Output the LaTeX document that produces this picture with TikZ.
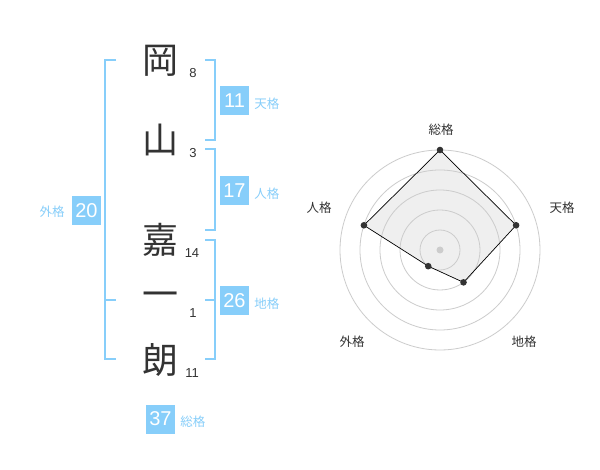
\documentclass[tikz,border=0pt]{standalone}
\usepackage{fontspec}
\setmainfont{Liberation Sans}
\newfontfamily\jpfont{Noto Sans CJK JP}
\usepackage{tikz}
\usetikzlibrary{positioning}
\definecolor{KakuBlue}{HTML}{87CEFA}
\definecolor{InkGray}{HTML}{333333}
\definecolor{RingGray}{HTML}{CCCCCC}
\definecolor{AreaGray}{HTML}{EFEFEF}

\begin{document}
\begin{tikzpicture}[x=1pt,y=-1pt,
  kanji/.style={font=\jpfont\fontsize{36}{36}\selectfont,text=InkGray,inner sep=0pt},
  strokes/.style={font=\fontsize{13}{13}\selectfont,text=InkGray,inner sep=0pt},
  score/.style={fill=KakuBlue,text=white,minimum size=29pt,inner sep=0pt,font=\fontsize{20}{20}\selectfont},
  kaku/.style={font=\jpfont\fontsize{12.5}{12.5}\selectfont,text=KakuBlue,inner sep=0pt},
  bracket/.style={draw=KakuBlue,line width=2pt},
  axislabel/.style={font=\jpfont\fontsize{12.5}{12.5}\selectfont,text=InkGray,inner sep=0pt},
  ring/.style={draw=RingGray,line width=0.8pt},
  dot/.style={fill=InkGray}]
  \useasboundingbox[fill=white] (0,0) rectangle (600,470);
  % name, one character above the other
  \node[kanji] (oka) at (160,61) {岡};
  \node[kanji] (yama) at (160,140) {山};
  \node[kanji] (ka) at (160,240) {嘉};
  \node[kanji] (ichi) at (160,300) {一};
  \node[kanji] (ro) at (160,360) {朗};
  \node[strokes] (n8) at (193,73) {8};
  \node[strokes] (n3) at (193,153) {3};
  \node[strokes] (n14) at (192,253) {14};
  \node[strokes] (n1) at (193,313) {1};
  \node[strokes] (n11) at (192,373) {11};
  % brackets
  \draw[bracket] (205,60) -- (215,60) -- (215,140) -- (205,140);
  \draw[bracket] (205,149) -- (215,149) -- (215,230) -- (205,230);
  \draw[bracket] (205,240) -- (215,240) -- (215,359) -- (205,359);
  \draw[bracket] (205,300) -- (215,300);
  \draw[bracket] (116,60) -- (105,60) -- (105,359) -- (116,359);
  \draw[bracket] (105,300) -- (116,300);
  % scores
  \node[score] (ten) at (234.5,100.5) {11};
  \node[kaku,right=5pt of ten.east,yshift=-3pt] (tenl) {天格};
  \node[score] (jin) at (234.5,190.5) {17};
  \node[kaku,right=5pt of jin.east,yshift=-3pt] (jinl) {人格};
  \node[score] (chi) at (234.5,300.5) {26};
  \node[kaku,right=5pt of chi.east,yshift=-3pt] (chil) {地格};
  \node[score] (gai) at (86.5,210.5) {20};
  \node[kaku,left=7pt of gai.west,yshift=-1pt] (gail) {外格};
  \node[score] (so) at (160.5,419) {37};
  \node[kaku,right=5pt of so.east,yshift=-3pt] (sol) {総格};
  % radar chart
  \begin{scope}[shift={(440,250)},yscale=-1]
    \coordinate (pso) at (90:100);
    \coordinate (pten) at (18:80);
    \coordinate (pchi) at (-54:40);
    \coordinate (pgai) at (-126:20);
    \coordinate (pjin) at (162:80);
    \fill[AreaGray] (pso) -- (pten) -- (pchi) -- (pgai) -- (pjin) -- cycle;
    \foreach \r in {20,40,60,80,100}
      \draw[ring] (0,0) circle (\r);
    \fill[RingGray] (0,0) circle (3.5);
    \draw[black,line width=0.7pt] (pso) -- (pten) -- (pchi) -- (pgai) -- (pjin) -- cycle;
    \foreach \p in {pso,pten,pchi,pgai,pjin}
      \fill[dot] (\p) circle (3.3);
  \end{scope}
  \node[axislabel] (aso) at (441,130) {総格};
  \node[axislabel] (aten) at (562,208) {天格};
  \node[axislabel] (ajin) at (319,208) {人格};
  \node[axislabel] (agai) at (352,342) {外格};
  \node[axislabel] (achi) at (524,342) {地格};
\end{tikzpicture}
\end{document}
